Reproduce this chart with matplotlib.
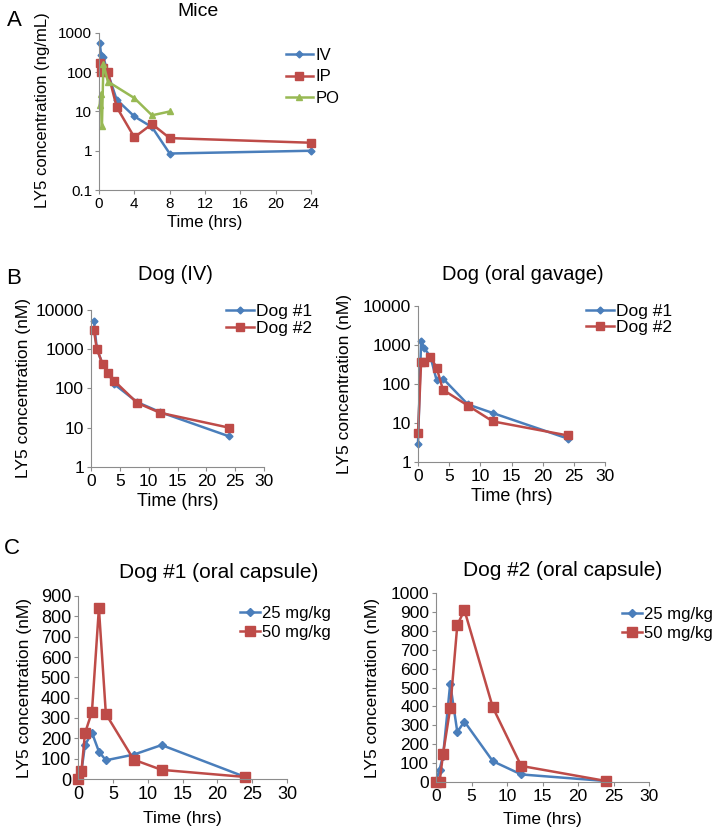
import numpy as np
import matplotlib
matplotlib.use('Agg')
import matplotlib.pyplot as plt
from matplotlib import rcParams

rcParams['font.family'] = ['Liberation Sans', 'DejaVu Sans']
rcParams['lines.linewidth'] = 1.8

# ---- data ----
# Panel A: mice (ng/mL)
mice_iv_t = [0.083, 0.25, 0.5, 1, 2, 4, 6, 8, 24]
mice_iv_c = [550, 270, 240, 95, 20, 7.5, 4, 0.85, 1.0]
mice_ip_t = [0.083, 0.25, 0.5, 1, 2, 4, 6, 8, 24]
mice_ip_c = [175, 100, 130, 100, 13, 2.2, 4.8, 2.1, 1.6]
mice_po_t = [0.083, 0.17, 0.33, 0.5, 1, 4, 6, 8]
mice_po_c = [15, 28, 4.2, 165, 58, 22, 8, 10]

# Panel B: dog IV / oral gavage (nM)
iv_t = [0.5, 1, 2, 3, 4, 8, 12, 24]
iv_dog1 = [5300, 1050, 420, 250, 130, 45, 25, 6]
iv_dog2 = [3100, 1030, 420, 253, 158, 43, 24, 10]
gav_t = [0, 0.5, 1, 2, 3, 4, 8, 12, 24]
gav_dog1 = [2.9, 1300, 830, 500, 123, 138, 30, 18, 4]
gav_dog2 = [5.4, 370, 370, 500, 260, 71, 28, 11, 4.8]

# Panel C: oral capsule (nM)
cap_t = [0, 0.5, 1, 2, 3, 4, 8, 12, 24]
cap1_25 = [15, 40, 167, 228, 135, 92, 120, 167, 10]
cap1_50 = [0, 39, 225, 330, 840, 320, 95, 45, 10]
cap2_25 = [5, 65, 140, 520, 265, 320, 110, 40, 5]
cap2_50 = [0, 0, 150, 390, 830, 910, 395, 85, 5]

BLUE = '#4a7ebb'
RED = '#be4b48'
GREEN = '#98b954'
AXC = '#8c8c8c'

W, H = 719, 832
fig = plt.figure(figsize=(W / 100, H / 100), dpi=100)


def make_ax(l, t, r, b):
    ax = fig.add_axes([l / W, 1 - b / H, (r - l) / W, (b - t) / H])
    for s in ['top', 'right']:
        ax.spines[s].set_visible(False)
    for s in ['left', 'bottom']:
        ax.spines[s].set_color(AXC)
        ax.spines[s].set_linewidth(0.8)
    ax.tick_params(colors=AXC, labelcolor='black', length=3, width=0.8, pad=2)
    ax.patch.set_alpha(0)
    return ax


def legend(ax, x, y, fs, sp, hl=1.6):
    ax.legend(loc='upper left', bbox_to_anchor=(x / W, 1 - y / H),
              bbox_transform=fig.transFigure, frameon=False, fontsize=fs,
              handlelength=hl, handletextpad=0.15, labelspacing=sp,
              borderaxespad=0, borderpad=0)


def txt(x, y, s, fs, rot=0):
    fig.text(x / W, 1 - y / H, s, fontsize=fs, rotation=rot,
             ha='center', va='center')


def logfmt(ax, ticks):
    ax.set_yscale('log')
    ax.set_yticks(ticks)
    ax.set_yticklabels([('%g' % v) for v in ticks])
    ax.minorticks_off()


# ---------- A ----------
ax = make_ax(99, 33, 311, 190)
ax.plot(mice_iv_t, mice_iv_c, color=BLUE, marker='D', ms=3.5, label='IV', clip_on=False)
ax.plot(mice_ip_t, mice_ip_c, color=RED, marker='s', ms=6, label='IP', clip_on=False)
ax.plot(mice_po_t, mice_po_c, color=GREEN, marker='^', ms=5, label='PO', clip_on=False)
logfmt(ax, [0.1, 1, 10, 100, 1000])
ax.set_ylim(0.1, 1000)
ax.set_xlim(0, 24)
ax.set_xticks(range(0, 25, 4))
ax.tick_params(labelsize=11)
ax.set_xlabel('Time (hrs)', fontsize=12, labelpad=3)
legend(ax, 286, 48, 12, 0.38)
txt(198, 11, 'Mice', 14)
txt(43, 110, 'LY5 concentration (ng/mL)', 12, 90)
txt(14, 21, 'A', 16)

# ---------- B left ----------
ax = make_ax(91, 310, 264, 467)
ax.plot(iv_t, iv_dog1, color=BLUE, marker='D', ms=3.5, label='Dog #1', clip_on=False)
ax.plot(iv_t, iv_dog2, color=RED, marker='s', ms=6, label='Dog #2', clip_on=False)
logfmt(ax, [1, 10, 100, 1000, 10000])
ax.set_ylim(1, 10000)
ax.set_xlim(0, 30)
ax.set_xticks(range(0, 31, 5))
ax.tick_params(labelsize=12.5)
ax.set_xlabel('Time (hrs)', fontsize=13, labelpad=3)
legend(ax, 226, 304, 12.5, 0.1)
txt(175, 274, 'Dog (IV)', 14.5)
txt(24, 388, 'LY5 concentration (nM)', 12.5, 90)
txt(14, 278, 'B', 16)

# ---------- B right ----------
ax = make_ax(418, 306, 605, 462)
ax.plot(gav_t, gav_dog1, color=BLUE, marker='D', ms=3.5, label='Dog #1', clip_on=False)
ax.plot(gav_t, gav_dog2, color=RED, marker='s', ms=6, label='Dog #2', clip_on=False)
logfmt(ax, [1, 10, 100, 1000, 10000])
ax.set_ylim(1, 10000)
ax.set_xlim(0, 30)
ax.set_xticks(range(0, 31, 5))
ax.tick_params(labelsize=12.5)
ax.set_xlabel('Time (hrs)', fontsize=13, labelpad=3)
legend(ax, 586, 304, 12.5, 0.05)
txt(523, 274, 'Dog (oral gavage)', 14.5)
txt(344, 384, 'LY5 concentration (nM)', 12.5, 90)

# ---------- C left ----------
ax = make_ax(78, 596, 287, 779)
ax.plot(cap_t, cap1_25, color=BLUE, marker='D', ms=4, label='25 mg/kg', clip_on=False)
ax.plot(cap_t, cap1_50, color=RED, marker='s', ms=6.5, label='50 mg/kg', clip_on=False)
ax.set_ylim(0, 900)
ax.set_yticks(range(0, 901, 100))
ax.set_xlim(0, 30)
ax.set_xticks(range(0, 31, 5))
ax.tick_params(labelsize=13)
ax.set_xlabel('Time (hrs)', fontsize=12.5, labelpad=6)
legend(ax, 240, 606, 12, 0.25, hl=1.2)
txt(219, 572, 'Dog #1 (oral capsule)', 15)
txt(25, 688, 'LY5 concentration (nM)', 12.5, 90)
txt(12, 549, 'C', 16)

# ---------- C right ----------
ax = make_ax(436, 593, 649, 782)
ax.plot(cap_t, cap2_25, color=BLUE, marker='D', ms=4, label='25 mg/kg', clip_on=False)
ax.plot(cap_t, cap2_50, color=RED, marker='s', ms=6.5, label='50 mg/kg', clip_on=False)
ax.set_ylim(0, 1000)
ax.set_yticks(range(0, 1001, 100))
ax.set_xlim(0, 30)
ax.set_xticks(range(0, 31, 5))
ax.tick_params(labelsize=12.5)
ax.set_xlabel('Time (hrs)', fontsize=12.5, labelpad=6)
legend(ax, 622, 607, 12, 0.25, hl=1.2)
txt(563, 570, 'Dog #2 (oral capsule)', 15)
txt(372, 688, 'LY5 concentration (nM)', 12.5, 90)

fig.savefig('out.png', dpi=100)
